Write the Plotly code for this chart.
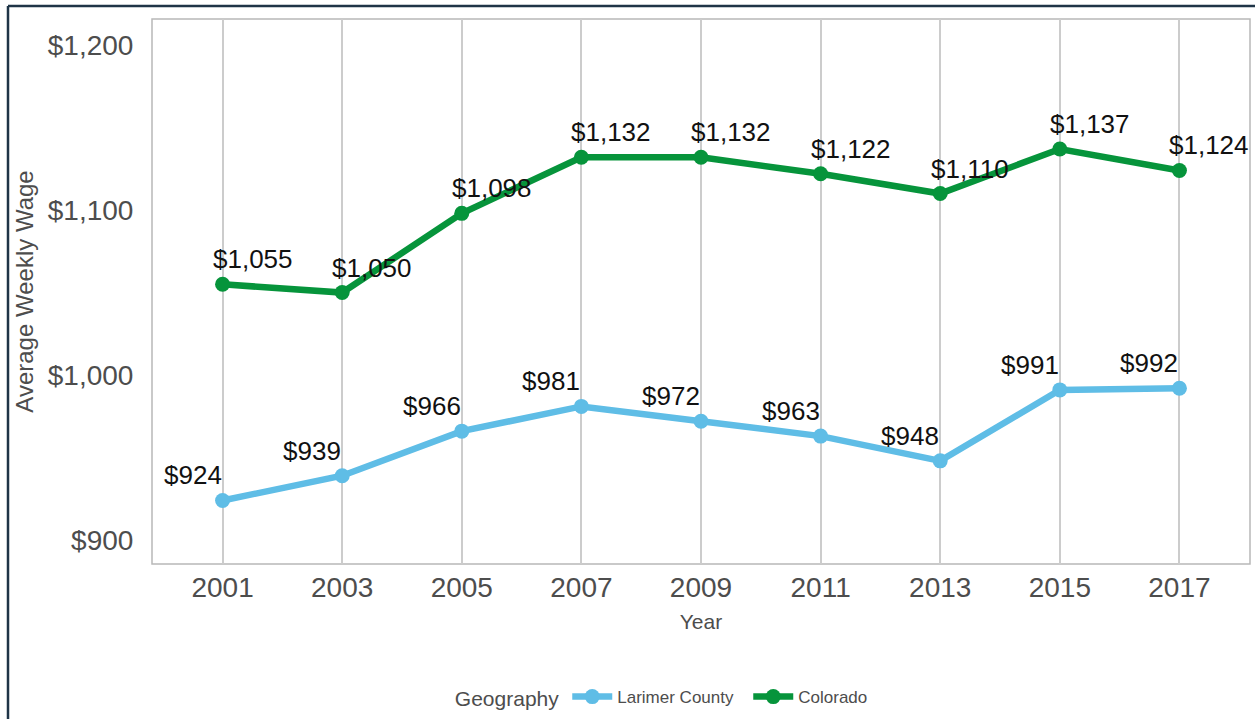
import plotly.graph_objects as go

# Average weekly wage by year
years = [2001, 2003, 2005, 2007, 2009, 2011, 2013, 2015, 2017]
larimer = [924, 939, 966, 981, 972, 963, 948, 991, 992]
colorado = [1055, 1050, 1098, 1132, 1132, 1122, 1110, 1137, 1124]

y_ticks = [900, 1000, 1100, 1200]
y_tick_text = ["$900", "$1,000", "$1,100", "$1,200"]

BLUE = "#5fbde6"
GREEN = "#06943b"
FONT = "Liberation Sans, Arial, sans-serif"

fig = go.Figure()

fig.add_trace(go.Scatter(
    x=years, y=larimer, name="Larimer County", mode="lines+markers",
    line=dict(color=BLUE, width=6.5), marker=dict(color=BLUE, size=15),
))
fig.add_trace(go.Scatter(
    x=years, y=colorado, name="Colorado", mode="lines+markers",
    line=dict(color=GREEN, width=6.5), marker=dict(color=GREEN, size=15),
))

# value labels: county labels sit up-left, state labels up-right
annotations = []
for x, v in zip(years, larimer):
    annotations.append(dict(x=x, y=v, xref="x", yref="y", text=f"${v:,}",
                            showarrow=False, xshift=-30, yshift=25,
                            font=dict(family=FONT, size=26, color="#111111")))
for x, v in zip(years, colorado):
    annotations.append(dict(x=x, y=v, xref="x", yref="y", text=f"${v:,}",
                            showarrow=False, xshift=30, yshift=25,
                            font=dict(family=FONT, size=26, color="#111111")))

fig.update_layout(
    width=1255, height=719,
    margin=dict(l=152, r=5, t=19, b=155, autoexpand=False),
    paper_bgcolor="white", plot_bgcolor="white",
    font=dict(family=FONT, color="#4d4d4d"),
    annotations=annotations,
    showlegend=True,
    legend=dict(
        orientation="h", x=0.274, xanchor="left", y=-0.246, yanchor="middle",
        title=dict(text="Geography", font=dict(size=21, color="#4d4d4d"), side="left"),
        font=dict(size=17, color="#4d4d4d"),
        itemwidth=40, entrywidth=126,
    ),
    shapes=[
        # outer frame (left and top edges)
        dict(type="line", xref="paper", yref="paper",
             x0=(8 - 152) / 1098, x1=(8 - 152) / 1098, y0=(564 - 6) / 545, y1=(564 - 760) / 545,
             line=dict(color="#1f3447", width=2.5)),
        dict(type="line", xref="paper", yref="paper",
             x0=(8 - 152) / 1098, x1=(1300 - 152) / 1098, y0=(564 - 6) / 545, y1=(564 - 6) / 545,
             line=dict(color="#1f3447", width=2.5)),
        # panel border
        dict(type="rect", xref="paper", yref="paper", x0=0, x1=1, y0=0, y1=1,
             line=dict(color="#b8b8b8", width=1.5), layer="below"),
    ],
)

fig.update_xaxes(
    range=[1999.82, 2018.18], tickvals=years, ticktext=[str(y) for y in years],
    showgrid=True, gridcolor="#cccccc", gridwidth=1.5, zeroline=False,
    showline=False, ticks="outside", ticklen=0, ticklabelstandoff=-2,
    tickcolor="rgba(0,0,0,0)",
    tickfont=dict(size=28, color="#4d4d4d"), automargin=False,
    title=dict(text="Year", font=dict(size=21, color="#4d4d4d"), standoff=12),
)
fig.update_yaxes(
    range=[885.5, 1215.8], tickvals=y_ticks, ticktext=y_tick_text,
    showgrid=False, zeroline=False, showline=False,
    ticks="outside", ticklen=12, tickcolor="rgba(0,0,0,0)",
    tickfont=dict(size=28, color="#4d4d4d"), automargin=False,
    title=dict(text="Average Weekly Wage", font=dict(size=24, color="#4d4d4d"), standoff=7),
)

fig.write_html("out.html")
